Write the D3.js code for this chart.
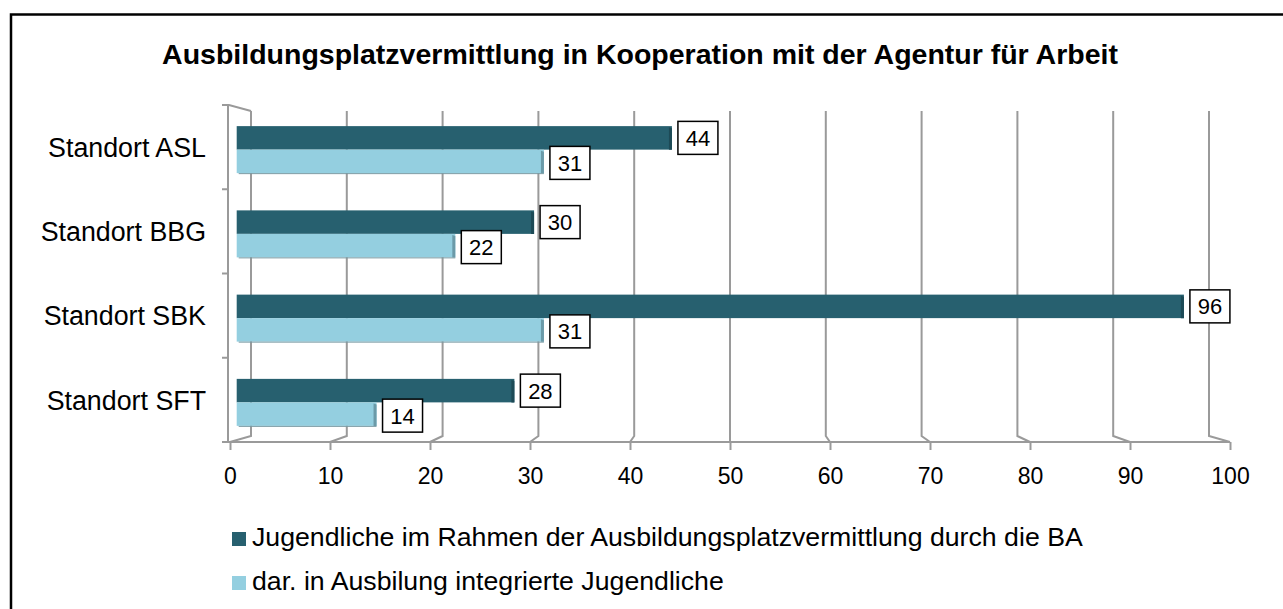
<!DOCTYPE html>
<html><head><meta charset="utf-8">
<script src="https://cdn.jsdelivr.net/npm/d3@7/dist/d3.min.js"></script>
<style>
html,body{margin:0;padding:0;background:#fff;}
svg{display:block;font-family:"Liberation Sans",Arial,sans-serif;}
</style></head>
<body>
<svg id="c" width="1283" height="609"></svg>
<script>
const title = "Ausbildungsplatzvermittlung in Kooperation mit der Agentur für Arbeit";
const categories = ["Standort ASL","Standort BBG","Standort SBK","Standort SFT"];
const seriesNames = ["Jugendliche im Rahmen der Ausbildungsplatzvermittlung durch die BA","dar. in Ausbilung integrierte Jugendliche"];
const seriesA = [44,30,96,28];
const seriesB = [31,22,31,14];
const ticks = [0,10,20,30,40,50,60,70,80,90,100];
const colors = ["#27606f","#94cfe0"];
const sideColors = ["#1d4a56","#6b9aa8"];

const svg = d3.select("#c");
// outer frame
svg.append("rect").attr("x",11).attr("y",14.5).attr("width",1400).attr("height",800)
  .attr("fill","none").attr("stroke","#000").attr("stroke-width",2.5);

svg.append("text").attr("x",640).attr("y",64).attr("text-anchor","middle")
  .attr("font-size",28.5).attr("font-weight","bold").text(title);

// scales: front plane, back plane, bar plane (perspective)
const xFront = d3.scaleLinear().domain([0,100]).range([230,1230]);
const xBack  = d3.scaleLinear().domain([0,100]).range([251,1209]);
const xBar   = d3.scaleLinear().domain([0,100]).range([238.7,1223.3]);
const y = d3.scaleBand().domain(categories).range([105,442]);
const yBackTop = 111, yBackBot = 436, yFront = 442;
const grid = "#9a9a9a";

// gridlines (back wall + floor kink)
svg.append("g").selectAll("path").data(ticks).join("path")
  .attr("d", t => `M${xBack(t)},${yBackTop}L${xBack(t)},${yBackBot}L${xFront(t)},${yFront}`)
  .attr("fill","none").attr("stroke",grid).attr("stroke-width",2);

// left wall top edge
svg.append("path").attr("d",`M222,105L229,105L${xBack(0)},${yBackTop}`)
  .attr("fill","none").attr("stroke",grid).attr("stroke-width",2);
// left category axis
svg.append("line").attr("x1",228).attr("x2",228).attr("y1",105).attr("y2",yFront)
  .attr("stroke",grid).attr("stroke-width",2);
const sep = categories.map(c=>y(c)).concat([y.range()[1]]);
svg.append("g").selectAll("line").data(sep).join("line")
  .attr("x1",222).attr("x2",228).attr("y1",d=>d).attr("y2",d=>d)
  .attr("stroke",grid).attr("stroke-width",2);

// bottom axis
const ax = svg.append("g").attr("transform",`translate(0,${yFront})`)
  .call(d3.axisBottom(xFront).tickValues(ticks).tickSize(8).tickPadding(20).tickFormat(d3.format("d")));
ax.select(".domain").attr("stroke",grid).attr("stroke-width",2).attr("d",`M222,0H${xFront(100)}`);
ax.selectAll(".tick line").attr("stroke",grid).attr("stroke-width",2);
ax.selectAll(".tick text").attr("font-size",23).attr("fill","#000")
  .attr("font-family","'Liberation Sans',Arial,sans-serif").attr("dy","0.6em");

// category labels
svg.append("g").selectAll("text").data(categories).join("text")
  .attr("x",206).attr("y",d=>y(d)+y.bandwidth()/2).attr("dy","0.36em")
  .attr("text-anchor","end").attr("font-size",26.8).text(d=>d);

// bars
const bh = 23.5, off = 2.5;
const rows = [];
categories.forEach((c,i)=>{
  rows.push({c, s:0, v:seriesA[i], y0: y(c)+y.bandwidth()/2+off-bh});
  rows.push({c, s:1, v:seriesB[i], y0: y(c)+y.bandwidth()/2+off});
});
const bars = svg.append("g");
bars.selectAll("rect.b").data(rows).join("rect").attr("class","b")
  .attr("x",xBar(0)-2).attr("y",d=>d.y0).attr("width",d=>xBar(d.v)-xBar(0)+2).attr("height",bh)
  .attr("fill",d=>colors[d.s]);
// bar end faces
bars.selectAll("path.side").data(rows).join("path").attr("class","side")
  .attr("d",d=>`M${xBar(d.v)-3},${d.y0+1}L${xBar(d.v)},${d.y0+2}L${xBar(d.v)},${d.y0+bh}L${xBar(d.v)-3},${d.y0+bh}Z`)
  .attr("fill",d=>sideColors[d.s]);
// bottom shadow edge of light bars
bars.selectAll("line.sh").data(rows.filter(r=>r.s===1)).join("line").attr("class","sh")
  .attr("x1",xBar(0)).attr("x2",d=>xBar(d.v)).attr("y1",d=>d.y0+bh+0.5).attr("y2",d=>d.y0+bh+0.5)
  .attr("stroke","#7a9aa3").attr("stroke-width",1);

// data labels
const bw = 40, bhh = 33;
const lab = svg.append("g").selectAll("g").data(rows).join("g")
  .attr("transform",d=>`translate(${xBar(d.v)+6},${d.y0+bh/2-bhh/2+(d.s?1.5:0)})`);
lab.append("rect").attr("width",bw).attr("height",bhh).attr("fill","#fff")
  .attr("stroke","#000").attr("stroke-width",1.5);
lab.append("text").attr("x",bw/2).attr("y",bhh/2).attr("dy","0.36em")
  .attr("text-anchor","middle").attr("font-size",22).text(d=>d.v);

// legend
const lg = svg.append("g").selectAll("g").data(seriesNames).join("g")
  .attr("transform",(d,i)=>`translate(232,${532+i*44})`);
lg.append("rect").attr("width",14).attr("height",14).attr("fill",(d,i)=>colors[i]);
lg.append("text").attr("x",20).attr("y",14).attr("font-size",26.7).text(d=>d);
</script>
</body></html>
